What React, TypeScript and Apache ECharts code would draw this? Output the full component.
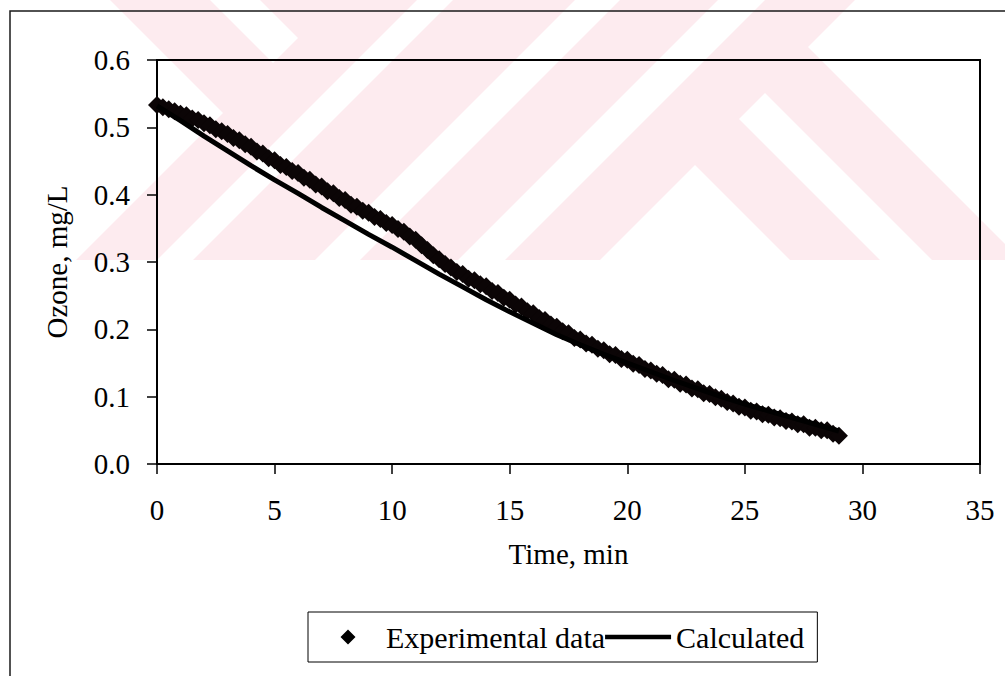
import React, { useEffect, useRef } from "react";
import * as echarts from "echarts";

// ---------- data ----------
const X_MIN = 0;
const X_MAX = 35;
const X_STEP = 5;
const Y_MIN = 0;
const Y_MAX = 0.6;
const Y_STEP = 0.1;

const EXP_TIME = [
  0, 0.25, 0.5, 0.75, 1, 1.25, 1.5, 1.75, 2, 2.25, 2.5, 2.75, 3, 3.25, 3.5, 3.75,
  4, 4.25, 4.5, 4.75, 5, 5.25, 5.5, 5.75, 6, 6.25, 6.5, 6.75, 7, 7.25, 7.5, 7.75,
  8, 8.25, 8.5, 8.75, 9, 9.25, 9.5, 9.75, 10, 10.25, 10.5, 10.75, 11, 11.25, 11.5, 11.75,
  12, 12.25, 12.5, 12.75, 13, 13.25, 13.5, 13.75, 14, 14.25, 14.5, 14.75, 15, 15.25, 15.5, 15.75,
  16, 16.25, 16.5, 16.75, 17, 17.25, 17.5, 17.75, 18, 18.25, 18.5, 18.75, 19, 19.25, 19.5, 19.75,
  20, 20.25, 20.5, 20.75, 21, 21.25, 21.5, 21.75, 22, 22.25, 22.5, 22.75, 23, 23.25, 23.5, 23.75,
  24, 24.25, 24.5, 24.75, 25, 25.25, 25.5, 25.75, 26, 26.25, 26.5, 26.75, 27, 27.25, 27.5, 27.75,
  28, 28.25, 28.5, 28.75, 29,
];
const EXP_OZONE = [
  0.533, 0.53, 0.527, 0.524, 0.52, 0.518, 0.513, 0.511, 0.506, 0.503, 0.497, 0.494, 0.49, 0.484, 0.481, 0.475,
  0.471, 0.464, 0.461, 0.454, 0.451, 0.444, 0.441, 0.435, 0.432, 0.425, 0.422, 0.415, 0.412, 0.405, 0.402, 0.395,
  0.392, 0.385, 0.382, 0.376, 0.373, 0.367, 0.364, 0.358, 0.355, 0.349, 0.345, 0.338, 0.333, 0.325, 0.318, 0.31,
  0.304, 0.297, 0.292, 0.285, 0.282, 0.275, 0.273, 0.267, 0.264, 0.257, 0.254, 0.247, 0.244, 0.237, 0.234, 0.227,
  0.224, 0.217, 0.214, 0.207, 0.204, 0.197, 0.194, 0.187, 0.185, 0.179, 0.177, 0.171, 0.169, 0.163, 0.162, 0.156,
  0.155, 0.149, 0.147, 0.141, 0.139, 0.134, 0.132, 0.126, 0.125, 0.119, 0.118, 0.112, 0.111, 0.105, 0.104, 0.099,
  0.097, 0.092, 0.09, 0.085, 0.084, 0.079, 0.078, 0.074, 0.073, 0.069, 0.068, 0.064, 0.063, 0.059, 0.059, 0.054,
  0.054, 0.05, 0.05, 0.045, 0.042,
];

const CALC_TIME = [
  0, 1, 2, 3, 4, 5, 6, 7, 8, 9, 10, 11, 12, 13, 14, 15, 16, 17, 18, 19, 20, 21, 22, 23, 24, 25, 26, 27, 28, 29,
];
const CALC_OZONE = [
  0.532, 0.51, 0.487, 0.465, 0.443, 0.422, 0.402, 0.381, 0.361, 0.341, 0.322, 0.302, 0.282, 0.263, 0.244,
  0.226, 0.209, 0.192, 0.177, 0.163, 0.15, 0.137, 0.124, 0.112, 0.1, 0.089, 0.079, 0.069, 0.059, 0.049,
];

const SERIES_NAMES = ["Experimental data", "Calculated"];
const X_TITLE = "Time, min";
const Y_TITLE = "Ozone, mg/L";

// ---------- decoration (background watermark of the scanned page) ----------
const WM_PINK = "#fdebef";
const WM_BASE: number[][] = [[0, 0], [1005, 0], [1005, 260], [0, 260]];
const WM_GAPS: number[][][] = [
  [[0, 0], [110, 0], [223, 113], [76, 260], [0, 260]],
  [[210, 0], [260, 0], [298, 38], [273, 63]],
  [[417, 0], [453, 0], [193, 260], [157, 260]],
  [[575, 0], [620, 0], [360, 260], [315, 260]],
  [[718, 0], [765, 0], [505, 260], [458, 260]],
  [[695, 165], [790, 260], [600, 260]],
  [[739, 119], [765, 93], [932, 260], [880, 260]],
  [[855, 0], [1005, 0], [1005, 244], [808, 47]],
];

// legend icons: a 15px diamond centred in a 66x15 box, and a 4px bar
const ICON_DIAMOND =
  "path://M0,7.5L0.01,7.5Z M66,7.5L65.99,7.5Z M33,0L40.5,7.5L33,15L25.5,7.5Z";
const ICON_LINE = "path://M0,0L66,0L66,4.5L0,4.5Z";

const SERIF = "'Liberation Serif', 'Times New Roman', Times, serif";

export default function App() {
  const ref = useRef<HTMLDivElement>(null);

  useEffect(() => {
    if (!ref.current) return;
    const chart = echarts.init(ref.current, undefined, { renderer: "svg" });

    const graphic: any[] = [
      {
        type: "polygon",
        silent: true,
        z: -30,
        shape: { points: WM_BASE },
        style: { fill: WM_PINK },
      },
      ...WM_GAPS.map((pts) => ({
        type: "polygon",
        silent: true,
        z: -29,
        shape: { points: pts },
        style: { fill: "#ffffff" },
      })),
      {
        type: "rect",
        silent: true,
        z: -5,
        shape: { x: 10, y: 11, width: 1200, height: 900 },
        style: { fill: "transparent", stroke: "#1a1a1a", lineWidth: 1.5 },
      },
    ];

    const option: any = {
      animation: false,
      backgroundColor: "#ffffff",
      textStyle: { fontFamily: SERIF, color: "#000" },
      graphic,
      grid: {
        left: 157,
        top: 60,
        right: 25,
        bottom: 212,
        show: true,
        borderColor: "#000",
        borderWidth: 2,
        backgroundColor: "transparent",
      },
      xAxis: {
        type: "value",
        min: X_MIN,
        max: X_MAX,
        interval: X_STEP,
        name: X_TITLE,
        nameLocation: "middle",
        nameGap: 75,
        nameTextStyle: { fontFamily: SERIF, fontSize: 29, color: "#000" },
        axisLine: { show: true, onZero: false, lineStyle: { color: "#000", width: 2 } },
        axisTick: { show: true, inside: false, length: 10, lineStyle: { color: "#000", width: 1.5 } },
        axisLabel: { fontFamily: SERIF, fontSize: 29, color: "#000", margin: 31 },
        splitLine: { show: false },
      },
      yAxis: {
        type: "value",
        min: Y_MIN,
        max: Y_MAX,
        interval: Y_STEP,
        name: Y_TITLE,
        nameLocation: "middle",
        nameRotate: 90,
        nameGap: 86,
        nameTextStyle: { fontFamily: SERIF, fontSize: 29, color: "#000" },
        axisLine: { show: true, onZero: false, lineStyle: { color: "#000", width: 2 } },
        axisTick: { show: true, inside: false, length: 10, lineStyle: { color: "#000", width: 1.5 } },
        axisLabel: {
          fontFamily: SERIF,
          fontSize: 29,
          color: "#000",
          margin: 27,
          formatter: (v: number) => v.toFixed(1),
        },
        splitLine: { show: false },
      },
      legend: {
        show: true,
        orient: "horizontal",
        left: 308,
        top: 612,
        itemWidth: 66,
        itemHeight: 15,
        itemGap: 0,
        padding: [10, 13, 10, 7],
        borderColor: "#000",
        borderWidth: 1,
        backgroundColor: "#fff",
        symbolKeepAspect: true,
        textStyle: { fontFamily: SERIF, fontSize: 30, color: "#000" },
        data: [
          { name: SERIES_NAMES[0], icon: ICON_DIAMOND, itemStyle: { color: "#000", opacity: 1 } },
          { name: SERIES_NAMES[1], icon: ICON_LINE, itemStyle: { color: "#000", opacity: 1 } },
        ],
      },
      series: [
        {
          name: SERIES_NAMES[0],
          type: "scatter",
          symbol: "diamond",
          symbolSize: 18,
          itemStyle: { color: "#0b0506", opacity: 1 },
          z: 3,
          data: EXP_TIME.map((t, i) => [t, EXP_OZONE[i]]),
        },
        {
          name: SERIES_NAMES[1],
          type: "line",
          symbol: "none",
          showSymbol: false,
          lineStyle: { color: "#000", width: 5 },
          itemStyle: { color: "#000" },
          z: 4,
          data: CALC_TIME.map((t, i) => [t, CALC_OZONE[i]]),
        },
      ],
    };

    chart.setOption(option);
    return () => {
      chart.dispose();
    };
  }, []);

  return (
    <div
      ref={ref}
      style={{ position: "absolute", left: 0, top: 0, width: 1005, height: 676 }}
    />
  );
}
